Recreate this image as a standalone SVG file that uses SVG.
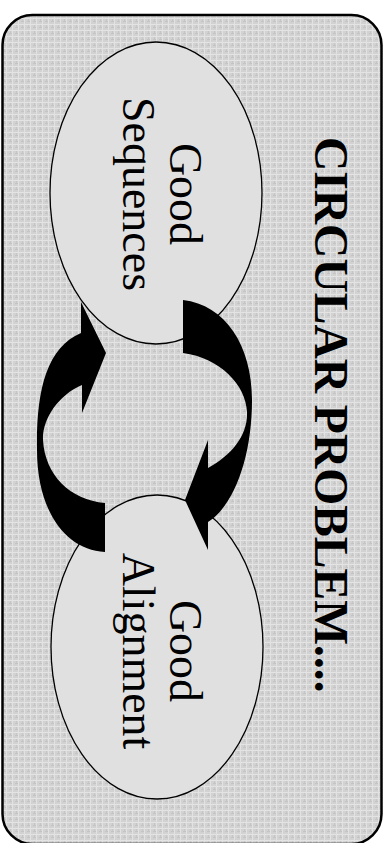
<svg xmlns="http://www.w3.org/2000/svg" width="389" height="843" viewBox="0 0 389 843">
  <style>
    .node { fill: #e0e0e0; stroke: #000; stroke-width: 1.3; }
    .label { font-family: "Liberation Serif", "Times New Roman", serif; font-size: 46px; fill: #000; text-anchor: middle; }
    .title { font-family: "Liberation Serif", "Times New Roman", serif; font-size: 47.5px; font-weight: bold; fill: #000; }
    .arrow { fill: #000; stroke: none; }
  </style>
  <defs>
    <pattern id="weave" width="6" height="6" patternUnits="userSpaceOnUse">
      <rect width="6" height="6" fill="#d2d2d2"/>
      <rect x="0" y="0" width="6" height="1" fill="#e4e4e4"/>
      <rect x="0" y="0" width="1" height="6" fill="#e2e2e2"/>
      <rect x="3" y="3" width="3" height="1" fill="#c4c4c4"/>
      <rect x="4" y="1" width="1" height="2" fill="#c6c6c6"/>
    </pattern>
  </defs>
  <g id="frame">
    <rect x="2.5" y="15" width="379" height="829" rx="30" ry="30" fill="url(#weave)" stroke="#000" stroke-width="2.5"/>
  </g>
  <g id="title">
    <text class="title" transform="translate(315,137) rotate(90)" x="0" y="0">CIRCULAR PROBLEM....</text>
  </g>
  <g id="node-good-sequences">
    <ellipse class="node" cx="156" cy="193" rx="106" ry="151"/>
    <text class="label" transform="translate(170,194) rotate(90)"><tspan x="0" y="0">Good</tspan><tspan x="0" y="47">Sequences</tspan></text>
  </g>
  <g id="node-good-alignment">
    <ellipse class="node" cx="157" cy="647" rx="106" ry="152"/>
    <text class="label" transform="translate(170,651) rotate(90)"><tspan x="0" y="0">Good</tspan><tspan x="0" y="47">Alignment</tspan></text>
  </g>
  <g id="connectors">
    <path class="arrow" d="M183,300 C225,305 252,345 252,400 C252,455 235,505 208,522 L208,550 L185,500 L208,440 L208,468 C232,455 248,435 247,412 C246,385 220,358 183,353 Z"/>
    <path class="arrow" d="M105,552 C65,550 37,510 37,450 C36,392 46,348 81,333 L81,302 L106,353 L82,413 L82,385 C58,395 42,420 43,440 C45,475 70,500 105,503 Z"/>
  </g>
</svg>
